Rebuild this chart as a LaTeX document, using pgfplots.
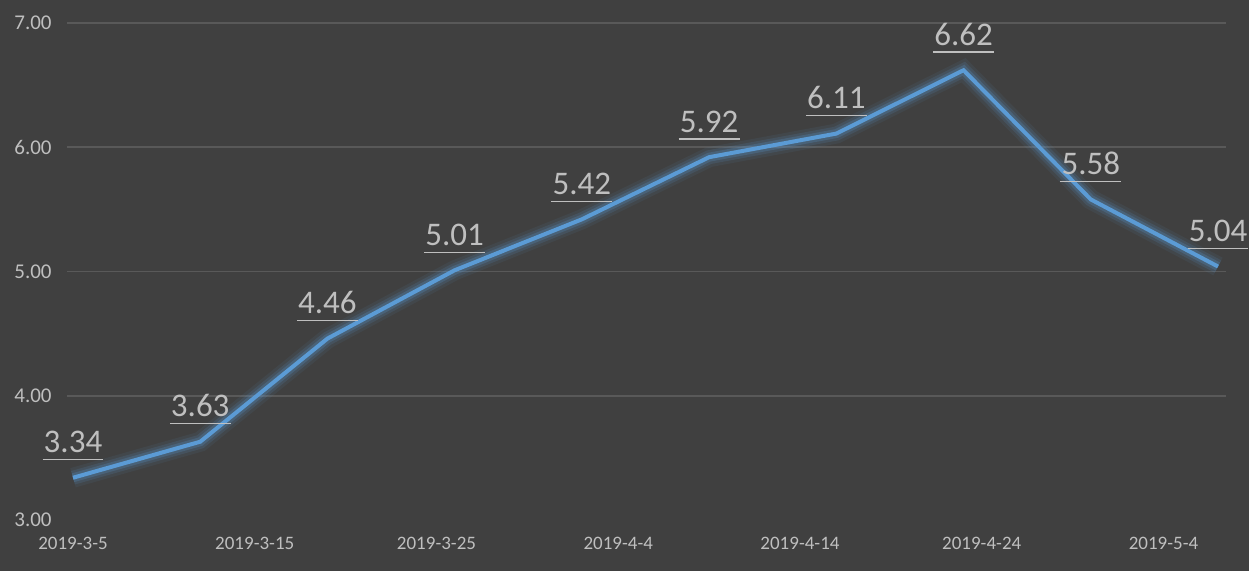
\documentclass[border=0pt]{standalone}
\usepackage{fontspec}
\setmainfont{Carlito}
\usepackage{pgfplots}
\usepackage{pgfplotstable}
\pgfplotsset{compat=1.18}

\definecolor{bg}{HTML}{404040}
\definecolor{gridc}{HTML}{595959}
\definecolor{txt}{HTML}{BFBFBF}
\definecolor{line}{HTML}{5B9BD5}

% underlined data label, as in the Excel chart
\newcommand{\ulabel}[1]{\vtop{\hbox{\kern0.6pt#1\kern0.6pt}\kern3pt\hrule height 0.6pt}}

% day 0 = 2019-3-5, one value a week
\pgfplotstableread{
day value
0  3.34
7  3.63
14 4.46
21 5.01
28 5.42
35 5.92
42 6.11
49 6.62
56 5.58
63 5.04
}\datatable

\begin{document}
\begin{tikzpicture}
  \path[use as bounding box, fill=bg] (-33.5pt,-25.5pt) rectangle (591pt,260pt);
  \begin{axis}[
      scale only axis,
      width=579.5pt,
      height=248.5pt,
      xmin=-0.33, xmax=63.44,
      ymin=3, ymax=7,
      clip=false,
      axis line style={draw=none},
      major tick length=0pt,
      xtick={0,10,20,30,40,50,60},
      xticklabels={2019-3-5,2019-3-15,2019-3-25,2019-4-4,2019-4-14,2019-4-24,2019-5-4},
      ytick={4,5,6,7},
      extra y ticks={3},
      extra y tick style={grid=none},
      ymajorgrids=true,
      grid style={color=gridc, line width=0.8pt},
      /pgf/number format/.cd, fixed, fixed zerofill, precision=2, assume math mode=true,
      /pgfplots/.cd,
      yticklabel style={font=\fontsize{10.5}{12}\selectfont, color=txt, anchor=east, inner sep=0pt, xshift=-7.5pt},
      xticklabel style={font=\fontsize{9.5}{11}\selectfont, color=txt, anchor=north, inner sep=0pt, yshift=-8.5pt},
    ]

    % soft glow under the line
    \addplot[forget plot, color=line, opacity=0.08, line width=10pt] table {\datatable};
    \addplot[forget plot, color=line, opacity=0.14, line width=7pt] table {\datatable};
    \addplot[forget plot, color=line, opacity=0.22, line width=4.5pt] table {\datatable};

    \addplot[
      color=line,
      line width=2pt,
      nodes near coords={\ulabel{\pgfmathprintnumber{\pgfplotspointmeta}}},
      every node near coord/.append style={
        font=\fontsize{16.5}{18}\selectfont, color=txt,
        anchor=base, inner sep=0pt, yshift=12.5pt},
    ] table {\datatable};

  \end{axis}
\end{tikzpicture}
\end{document}
